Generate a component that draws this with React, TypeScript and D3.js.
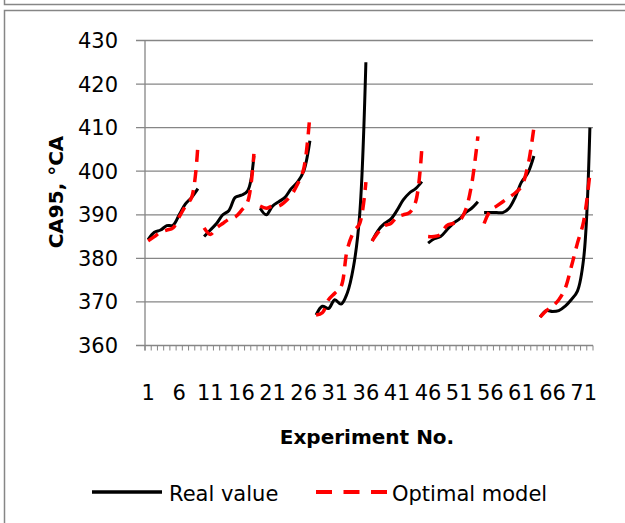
import React, { useEffect, useRef } from 'react';
import * as d3 from 'd3';

// experiment numbers 1..72, run in 8 blocks of 9 experiments
const experiments: number[] = d3.range(1, 73);
const tickLabels = ['1', '6', '11', '16', '21', '26', '31', '36', '41', '46', '51', '56', '61', '66', '71'];
const yTicks = [360, 370, 380, 390, 400, 410, 420, 430];

// measured CA95 per block (black line)
const realValue: number[][] = [
  [384.3, 386, 386.5, 387.5, 387.6, 390, 392.5, 394, 396],
  [385, 386.5, 388, 390, 391, 394, 394.5, 395.5, 403.5],
  [391.5, 390, 392, 393, 394, 396, 397.5, 400, 407],
  [367, 369, 368.5, 370.5, 369.5, 372, 378, 390, 425],
  [384, 386.5, 388, 389, 391, 393.4, 395, 396, 397.6],
  [383.5, 384.5, 385, 386.5, 388, 389, 390.5, 391.5, 393],
  [390.5, 390.5, 390.5, 390.5, 391.5, 394, 397.5, 399.5, 403.5],
  [366.5, 368, 367.8, 368, 369, 370.5, 372.5, 380, 410],
];

// model prediction per block (red dashed line)
const optimalModel: number[][] = [
  [384, 385, 386, 386.5, 387, 389.5, 392, 394, 406],
  [387, 385.5, 387, 388, 389, 389.5, 391, 393, 404],
  [392, 391.5, 392, 392, 393, 394.5, 397, 400.5, 413],
  [367, 367.5, 370.5, 372, 373.5, 382, 386, 388, 397.5],
  [384, 386, 387.5, 388, 389.5, 390, 390.5, 393, 405.5],
  [385, 385, 385.5, 387.5, 388, 388.5, 391, 397, 408],
  [388, 391, 392, 393, 394, 395, 396.5, 401, 410],
  [366.5, 368, 369, 370.5, 373, 378, 383.5, 388.5, 399.5],
];

const GRAY = '#868686';
const FONT = '"DejaVu Sans", sans-serif';

const App = () => {
  const ref = useRef<SVGSVGElement>(null);

  useEffect(() => {
    const svg = d3.select(ref.current);
    svg.selectAll('*').remove();

    const x = d3.scaleBand<number>().domain(experiments).range([145, 593]);
    const y = d3.scaleLinear().domain([360, 430]).range([345.5, 40.5]);
    const cx = (n: number) => (x(n) as number) + x.bandwidth() / 2;

    // frames (bottom of the box above + this chart's box)
    svg.append('path')
      .attr('d', 'M4.5,0V4.5H625 M4.5,523V10.5H625')
      .attr('fill', 'none').attr('stroke', GRAY).attr('stroke-width', 1.5);

    // gridlines with their tick stubs
    const g = svg.append('g');
    g.selectAll('.grid')
      .data(yTicks)
      .enter().append('line')
      .attr('x1', 136).attr('x2', 593)
      .attr('y1', d => y(d)).attr('y2', d => y(d))
      .attr('stroke', GRAY).attr('stroke-width', 1.3);

    g.selectAll('.ylab')
      .data(yTicks)
      .enter().append('text')
      .attr('x', 118).attr('y', d => y(d) + 7.5)
      .attr('text-anchor', 'end')
      .attr('font-family', FONT).attr('font-size', 21)
      .text(d => d);

    // y axis line
    g.append('line')
      .attr('x1', 145).attr('x2', 145).attr('y1', 40.5).attr('y2', 350.5)
      .attr('stroke', GRAY).attr('stroke-width', 1.3);

    // x minor ticks at each category boundary
    const edges = experiments.map(n => x(n) as number).concat([593]);
    g.selectAll('.xtick')
      .data(edges)
      .enter().append('line')
      .attr('x1', d => d).attr('x2', d => d)
      .attr('y1', 345.5).attr('y2', 350.5)
      .attr('stroke', GRAY).attr('stroke-width', 1);

    g.selectAll('.xlab')
      .data(tickLabels)
      .enter().append('text')
      .attr('x', d => cx(+d)).attr('y', 399.5)
      .attr('text-anchor', 'middle')
      .attr('font-family', FONT).attr('font-size', 21)
      .text(d => d);

    // axis titles
    svg.append('text')
      .attr('x', 367).attr('y', 444)
      .attr('text-anchor', 'middle')
      .attr('font-family', FONT).attr('font-size', 20).attr('font-weight', 'bold')
      .text('Experiment No.');

    svg.append('text')
      .attr('transform', 'translate(63,192) rotate(-90)')
      .attr('text-anchor', 'middle')
      .attr('font-family', FONT).attr('font-size', 20).attr('font-weight', 'bold')
      .text('CA95, °CA');

    // series, one path per block of 9
    const line = d3.line<[number, number]>()
      .x(d => cx(d[0]))
      .y(d => y(d[1]))
      .curve(d3.curveCatmullRom.alpha(0.5));

    const toPts = (run: number[], b: number) =>
      run.map((v, i) => [experiments[b * 9 + i], v] as [number, number]);

    svg.append('g').selectAll('path')
      .data(realValue.map(toPts))
      .enter().append('path')
      .attr('d', line)
      .attr('fill', 'none').attr('stroke', '#000').attr('stroke-width', 3);

    svg.append('g').selectAll('path')
      .data(optimalModel.map(toPts))
      .enter().append('path')
      .attr('d', line)
      .attr('fill', 'none').attr('stroke', '#ff0000').attr('stroke-width', 3.5)
      .attr('stroke-dasharray', '12,8');

    // legend
    const lg = svg.append('g');
    lg.append('line')
      .attr('x1', 92).attr('x2', 162).attr('y1', 492).attr('y2', 492)
      .attr('stroke', '#000').attr('stroke-width', 3.5);
    lg.append('text')
      .attr('x', 169).attr('y', 501)
      .attr('font-family', FONT).attr('font-size', 21)
      .text('Real value');
    lg.append('line')
      .attr('x1', 316).attr('x2', 387).attr('y1', 492).attr('y2', 492)
      .attr('stroke', '#ff0000').attr('stroke-width', 4)
      .attr('stroke-dasharray', '16,11.5');
    lg.append('text')
      .attr('x', 392).attr('y', 501)
      .attr('font-family', FONT).attr('font-size', 21)
      .text('Optimal model');
  }, []);

  return (
    <svg ref={ref} width={625} height={523}
      style={{ position: 'absolute', left: 0, top: 0, background: '#fff' }} />
  );
};

export default App;
